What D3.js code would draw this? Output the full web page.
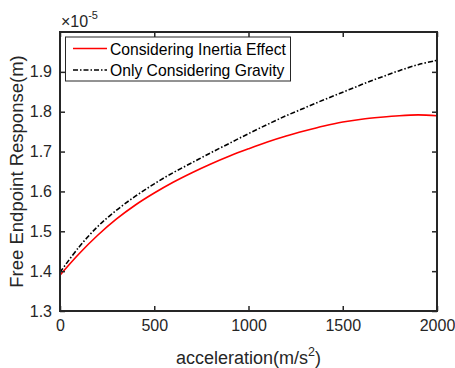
<!DOCTYPE html>
<html>
<head>
  <script src="https://d3js.org/d3.v7.min.js"></script>
  <meta charset="utf-8">
  <title>Free Endpoint Response</title>
  <style>
    body {margin: 0; background: #fff;}
    svg {font-family: "Liberation Sans", Arial, Helvetica, sans-serif;}
  </style>
</head>
<body>
  <div id="chart"></div>
  <script>
    /* data (response in units of 1e-5 m) */
    const acceleration = [0, 100, 200, 300, 400, 500, 600, 700, 800, 900, 1000,
                          1100, 1200, 1300, 1400, 1500, 1600, 1700, 1800, 1900, 2000];
    const inertiaResponse = [1.390, 1.443, 1.490, 1.531, 1.566, 1.596, 1.623, 1.647, 1.669, 1.689, 1.707,
                             1.724, 1.739, 1.752, 1.764, 1.774, 1.781, 1.786, 1.790, 1.792, 1.790];
    const gravityResponse = [1.397, 1.460, 1.512, 1.553, 1.588, 1.619, 1.647, 1.672, 1.697, 1.721, 1.745,
                             1.768, 1.790, 1.810, 1.830, 1.849, 1.868, 1.886, 1.903, 1.918, 1.929];
    const xTicks = [0, 500, 1000, 1500, 2000];
    const yTicks = [1.3, 1.4, 1.5, 1.6, 1.7, 1.8, 1.9];
    const seriesNames = ["Considering Inertia Effect", "Only Considering Gravity"];

    /* canvas */
    const W = 455, H = 368;
    const m = {left: 60, right: 437, top: 32, bottom: 311};
    const axisColor = "#262626";

    const svg = d3.select("#chart").append("svg")
                  .attr("width", W)
                  .attr("height", H);

    const x = d3.scaleLinear().domain([0, 2000]).range([m.left, m.right]);
    const y = d3.scaleLinear().domain([1.3, 2.0]).range([m.bottom, m.top]);

    /* curves */
    const line = d3.line()
                   .x((d, i) => x(acceleration[i]))
                   .y(d => y(d))
                   .curve(d3.curveCatmullRom.alpha(0.5));

    const plot = svg.append("g");
    plot.append("path")
        .datum(gravityResponse)
        .attr("d", line)
        .attr("fill", "none")
        .attr("stroke", "#000")
        .attr("stroke-width", 1.6)
        .attr("stroke-dasharray", "5,2,1.5,2");

    plot.append("path")
        .datum(inertiaResponse)
        .attr("d", line)
        .attr("fill", "none")
        .attr("stroke", "#ff0000")
        .attr("stroke-width", 1.6);

    /* axes, ticks inward, box on */
    const tickLen = 5;
    const fmtX = d3.format("d");
    const fmtY = d3.format(".1f");

    svg.append("g")
       .attr("transform", `translate(0,${m.bottom})`)
       .call(d3.axisBottom(x).tickValues(xTicks).tickSize(-tickLen).tickPadding(9).tickFormat(fmtX))
       .call(g => g.select(".domain").remove());

    svg.append("g")
       .attr("transform", `translate(0,${m.top})`)
       .call(d3.axisTop(x).tickValues(xTicks).tickSize(-tickLen).tickFormat(""))
       .call(g => g.select(".domain").remove());

    svg.append("g")
       .attr("transform", `translate(${m.left},0)`)
       .call(d3.axisLeft(y).tickValues(yTicks).tickSize(-tickLen).tickPadding(8).tickFormat(fmtY))
       .call(g => g.select(".domain").remove());

    svg.append("g")
       .attr("transform", `translate(${m.right},0)`)
       .call(d3.axisRight(y).tickValues(yTicks).tickSize(-tickLen).tickFormat(""))
       .call(g => g.select(".domain").remove());

    svg.selectAll(".tick line").attr("stroke", axisColor).attr("stroke-width", 1.5);
    svg.selectAll(".tick text")
       .attr("fill", axisColor)
       .style("font-size", "16px");

    svg.append("rect")
       .attr("x", m.left).attr("y", m.top)
       .attr("width", m.right - m.left).attr("height", m.bottom - m.top)
       .attr("fill", "none")
       .attr("stroke", axisColor)
       .attr("stroke-width", 2);

    /* exponent */
    const expo = svg.append("text")
                    .attr("x", 61).attr("y", 27)
                    .attr("fill", axisColor)
                    .style("font-size", "16px");
    expo.append("tspan").text("\u00d710");
    expo.append("tspan").attr("dy", -8).style("font-size", "11px").text("-5");

    /* labels */
    const xl = svg.append("text")
                  .attr("x", (m.left + m.right) / 2).attr("y", 364)
                  .attr("text-anchor", "middle")
                  .attr("fill", axisColor)
                  .style("font-size", "18px");
    xl.append("tspan").text("acceleration(m/s");
    xl.append("tspan").attr("dy", -8).style("font-size", "12.5px").text("2");
    xl.append("tspan").attr("dy", 8).text(")");

    svg.append("text")
       .attr("transform", `translate(23,${(m.top + m.bottom) / 2}) rotate(-90)`)
       .attr("text-anchor", "middle")
       .attr("fill", axisColor)
       .style("font-size", "18.5px")
       .text("Free Endpoint Response(m)");

    /* legend */
    const legend = svg.append("g");
    legend.append("rect")
          .attr("x", 65.5).attr("y", 37)
          .attr("width", 225).attr("height", 44)
          .attr("fill", "#fff")
          .attr("stroke", axisColor)
          .attr("stroke-width", 1);

    const legendStyles = [
      {stroke: "#ff0000", dash: null},
      {stroke: "#000", dash: "5,2,1.5,2"}
    ];
    seriesNames.forEach((name, i) => {
      const cy = 48.5 + i * 21.5;
      legend.append("line")
            .attr("x1", 73).attr("x2", 107)
            .attr("y1", cy).attr("y2", cy)
            .attr("stroke", legendStyles[i].stroke)
            .attr("stroke-width", 1.5)
            .attr("stroke-dasharray", legendStyles[i].dash);
      legend.append("text")
            .attr("x", 110).attr("y", cy + 6)
            .attr("fill", "#000")
            .style("font-size", "15.7px")
            .text(name);
    });
  </script>
</body>
</html>
